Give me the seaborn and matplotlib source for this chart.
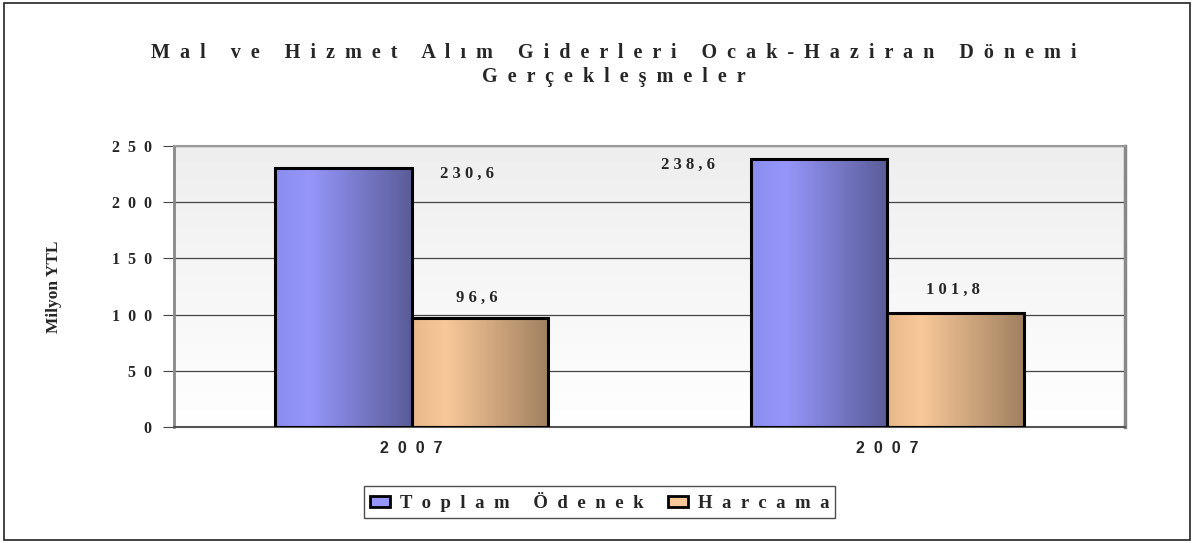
import numpy as np
import pandas as pd
import matplotlib.pyplot as plt
import seaborn as sns
from matplotlib.colors import LinearSegmentedColormap
from matplotlib.patches import Rectangle

# data
groups = [0, 1]
group_labels = ['2007', '2007']
series = ['Toplam Ödenek', 'Harcama']
toplam_odenek = [230.6, 238.6]
harcama = [96.6, 101.8]
value_texts = [['230,6', '238,6'], ['96,6', '101,8']]
yticks = [0, 50, 100, 150, 200, 250]

title = 'Mal ve Hizmet Alım Giderleri Ocak-Haziran Dönemi\nGerçekleşmeler'


def spaced(s, gap=' '):
    # spread the letters out, line by line
    return '\n'.join(gap.join(line) for line in s.split('\n'))


df = pd.DataFrame({
    'group': groups * 2,
    'series': [series[0]] * 2 + [series[1]] * 2,
    'value': toplam_odenek + harcama,
})

sns.set_style('white')
plt.rcParams['font.family'] = ['Liberation Serif', 'DejaVu Serif']
plt.rcParams['font.weight'] = 'bold'

fig = plt.figure(figsize=(11.94, 5.43), dpi=100)
ax = fig.add_axes([0.1457, 0.2136, 0.7965, 0.5175])

sns.barplot(data=df, x='group', y='value', hue='series', order=groups,
            hue_order=series, width=0.574, palette=['#9696fa', '#f8c898'],
            edgecolor='black', linewidth=2.2, legend=True, ax=ax, zorder=3)

cmaps = [LinearSegmentedColormap.from_list('b', [(0, '#8a8ded'), (0.25, '#9696fa'), (1, '#5a5c98')]),
         LinearSegmentedColormap.from_list('o', [(0, '#e8b888'), (0.25, '#f8c898'), (1, '#a08060')])]
grad = np.linspace(0, 1, 256).reshape(1, -1)

# label offsets in pixels from the bar top (blue: beside the bar, orange: above)
offsets = [[(55, -6), (-63, -6)], [(-3, 21), (-3, 23)]]
for si, cont in enumerate(ax.containers):
    for bi, bar in enumerate(cont):
        x0, w, h = bar.get_x(), bar.get_width(), bar.get_height()
        ax.imshow(grad, extent=[x0, x0 + w, 0, h], aspect='auto',
                  cmap=cmaps[si], zorder=2.5, interpolation='bicubic')
        bar.set_facecolor('none')
        if si == 0:
            bx = x0 + w if bi == 0 else x0
        else:
            bx = x0 + w / 2
        dx, dy = offsets[si][bi]
        ax.annotate(spaced(value_texts[si][bi]), (bx, h), xytext=(dx, dy),
                    textcoords='offset pixels', ha='center', va='center',
                    fontsize=12, fontweight='bold')

# background gradient of the plot area
bg = np.linspace(0, 1, 256).reshape(-1, 1)
bgmap = LinearSegmentedColormap.from_list('bg', ['#ffffff', '#eeeeee'])
ax.imshow(bg, extent=[0, 1, 0, 1], transform=ax.transAxes, origin='lower',
          aspect='auto', cmap=bgmap, zorder=0.1)

ax.set_xlim(-0.5, 1.5)
ax.set_ylim(0, 250)
ax.set_yticks(yticks)
ax.set_yticklabels([spaced(str(v), '  ') for v in yticks], fontsize=11.5, fontweight='bold')
ax.set_xticks(groups)
ax.set_xticklabels([spaced(g, '  ') for g in group_labels], fontsize=11.5,
                   fontweight='bold', family='Liberation Sans')
ax.set_xticks([-0.5, 0.5, 1.5], minor=True)
ax.tick_params(axis='x', which='major', length=0, pad=10)
ax.tick_params(axis='x', which='minor', length=5, width=0.8, color='#444444', direction='out')
ax.tick_params(axis='y', length=8, width=0.8, color='#444444', direction='out', left=True, pad=8)
ax.set_axisbelow(True)
ax.yaxis.grid(True, color='#444444', linewidth=0.9, zorder=0.5)
ax.set_xlabel('')
ax.set_ylabel('Milyon YTL', fontsize=12.5, fontweight='bold')
ax.yaxis.set_label_coords(-0.118, 0.5)

for side, lw, col in [('left', 2, '#888888'), ('right', 2.5, '#888888'),
                      ('top', 1.5, '#999999'), ('bottom', 1.5, '#555555')]:
    ax.spines[side].set_visible(True)
    ax.spines[side].set_linewidth(lw)
    ax.spines[side].set_color(col)

fig.text(0.514, 0.88, spaced(title, '  '), ha='center', va='center',
         fontsize=14.5, fontweight='bold', linespacing=1.3)

handles, _ = ax.get_legend_handles_labels()
for hnd, c in zip(handles, ['#9696fa', '#f8c898']):
    hnd.set_facecolor(c)
    hnd.set_edgecolor('black')
    hnd.set_linewidth(2)
ax.legend_.remove()
leg = fig.legend(handles, [spaced(s, '  ') for s in series], loc='center',
                 bbox_to_anchor=(0.502, 0.0755), ncol=2, frameon=True,
                 fancybox=False, edgecolor='#222222', fontsize=13.5,
                 handlelength=1.1, handleheight=0.5, handletextpad=0.5,
                 columnspacing=1.3, borderpad=0.3, borderaxespad=0)
leg.get_frame().set_linewidth(1)

fig.patches.append(Rectangle((0.003, 0.005), 0.994, 0.99, transform=fig.transFigure,
                             fill=False, edgecolor='#222222', linewidth=1.2))

fig.savefig('out.png', dpi=100)
